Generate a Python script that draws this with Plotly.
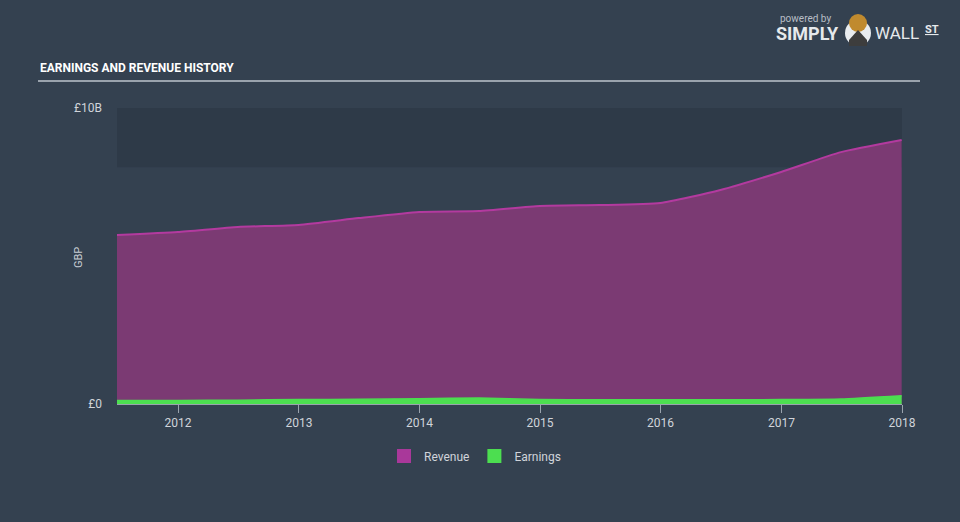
import plotly.graph_objects as go

dates = ["2011-06-30", "2011-12-31", "2012-06-30", "2012-12-31", "2013-06-30",
         "2013-12-31", "2014-06-30", "2014-12-31", "2015-06-30", "2015-12-31",
         "2016-06-30", "2016-12-31", "2017-06-30", "2017-12-31"]
revenue = [5.71, 5.81, 5.98, 6.05, 6.28, 6.49, 6.52, 6.69, 6.72, 6.79,
           7.23, 7.84, 8.51, 8.92]
earnings = [0.12, 0.12, 0.13, 0.15, 0.16, 0.18, 0.20, 0.15, 0.14, 0.14,
            0.14, 0.15, 0.17, 0.28]
y_ticks = [0, 10]
y_tick_text = ["£0", "£10B"]
x_ticks = ["2012-01-01", "2013-01-01", "2014-01-01", "2015-01-01",
           "2016-01-01", "2017-01-01", "2018-01-01"]
x_tick_text = ["2012", "2013", "2014", "2015", "2016", "2017", "2018"]

BG = "#344150"
FONT = "Roboto, Lato, sans-serif"
REV_LINE = "#b33a9f"
REV_FILL = "#7b3a73"
EARN = "#4cde50"

fig = go.Figure()
fig.add_trace(go.Scatter(
    x=dates, y=revenue, name="Revenue", mode="lines", showlegend=False,
    line=dict(color=REV_LINE, width=2, shape="spline", smoothing=0.5),
    fill="tozeroy", fillcolor=REV_FILL,
))
fig.add_trace(go.Scatter(
    x=dates, y=earnings, name="Earnings", mode="lines", showlegend=False,
    line=dict(color=EARN, width=1.5, shape="spline", smoothing=0.5),
    fill="tozeroy", fillcolor=EARN,
))
# legend entries with square swatches
fig.add_trace(go.Scatter(x=[None], y=[None], name="Revenue", mode="markers",
                         marker=dict(symbol="square", size=14, color="#a9389a")))
fig.add_trace(go.Scatter(x=[None], y=[None], name="Earnings", mode="markers",
                         marker=dict(symbol="square", size=14, color=EARN)))

# darker band at top of plot
fig.add_shape(type="rect", xref="paper", yref="y", x0=0, x1=1, y0=8, y1=10,
              fillcolor="#2e3a48", line=dict(width=0), layer="below")
# title underline
fig.add_shape(type="line", xref="paper", yref="paper",
              x0=(38 - 117) / 785, x1=(920 - 117) / 785,
              y0=(404 - 81) / 296, y1=(404 - 81) / 296,
              line=dict(color="#9aa3ad", width=2))

annotations = [
    dict(text="<b>EARNINGS AND REVENUE HISTORY</b>", x=(38 - 117) / 785, y=(404 - 68) / 296,
         xref="paper", yref="paper", xanchor="left", yanchor="middle", showarrow=False,
         font=dict(family="Roboto, sans-serif", size=12, color="#ffffff")),
    dict(text="GBP", x=(78 - 117) / 785, y=(404 - 258) / 296, xref="paper", yref="paper",
         xanchor="center", yanchor="middle", showarrow=False, textangle=-90,
         font=dict(family=FONT, size=11, color="#c9ced5")),
    dict(text="powered by", x=(778 - 117) / 785, y=(404 - 18) / 296, xref="paper", yref="paper",
         xanchor="left", yanchor="middle", showarrow=False,
         font=dict(family=FONT, size=10, color="#b8bec6")),
    dict(text="<b>SIMPLY</b>", x=(774 - 117) / 785, y=(404 - 33) / 296, xref="paper", yref="paper",
         xanchor="left", yanchor="middle", showarrow=False,
         font=dict(family=FONT, size=18, color="#e6e9ec")),
    dict(text="WALL", x=(873 - 117) / 785, y=(404 - 33) / 296, xref="paper", yref="paper",
         xanchor="left", yanchor="middle", showarrow=False,
         font=dict(family=FONT, size=17, color="#e6e9ec")),
    dict(text="<b><u>ST</u></b>", x=(923 - 117) / 785, y=(404 - 29) / 296, xref="paper", yref="paper",
         xanchor="left", yanchor="middle", showarrow=False,
         font=dict(family=FONT, size=11, color="#e6e9ec")),
]

# bull logo approximation
fig.add_shape(type="circle", xref="paper", yref="paper",
              x0=(845 - 117) / 785, x1=(871 - 117) / 785,
              y0=(404 - 46) / 296, y1=(404 - 20) / 296,
              fillcolor="#e9ecef", line=dict(width=0))
fig.add_shape(type="circle", xref="paper", yref="paper",
              x0=(849 - 117) / 785, x1=(867 - 117) / 785,
              y0=(404 - 32) / 296, y1=(404 - 14) / 296,
              fillcolor="#c08a2e", line=dict(width=0))
fig.add_shape(type="path", xref="paper", yref="paper",
              path=f"M {(849-117)/785} {(404-40)/296} L {(858-117)/785} {(404-30)/296} L {(867-117)/785} {(404-40)/296} L {(867-117)/785} {(404-46)/296} L {(849-117)/785} {(404-46)/296} Z",
              fillcolor="#3d3d3d", line=dict(width=0))

fig.update_layout(
    width=960, height=522,
    margin=dict(l=117, r=58, t=108, b=118),
    paper_bgcolor=BG, plot_bgcolor=BG,
    font=dict(family=FONT, size=12, color="#d0d4da"),
    showlegend=True,
    legend=dict(orientation="h", x=(475 - 117) / 785, xanchor="center",
                y=(404 - 456) / 296, yanchor="middle",
                font=dict(family=FONT, size=12, color="#d0d4da"),
                bgcolor="rgba(0,0,0,0)", itemwidth=30),
    annotations=annotations,
    xaxis=dict(type="date", range=["2011-06-30", "2018-01-01"],
               tickvals=x_ticks, ticktext=x_tick_text,
               showgrid=False, zeroline=False,
               showline=True, linecolor="#9aa3ad", linewidth=1,
               ticks="outside", ticklen=8, tickcolor="#9aa3ad", tickwidth=1,
               tickfont=dict(family=FONT, size=12, color="#d0d4da")),
    yaxis=dict(range=[0, 10], tickvals=y_ticks, ticktext=y_tick_text,
               showgrid=False, zeroline=False, showline=False,
               ticklabelstandoff=14,
               tickfont=dict(family=FONT, size=12, color="#d0d4da")),
)

fig.write_html("out.html")
